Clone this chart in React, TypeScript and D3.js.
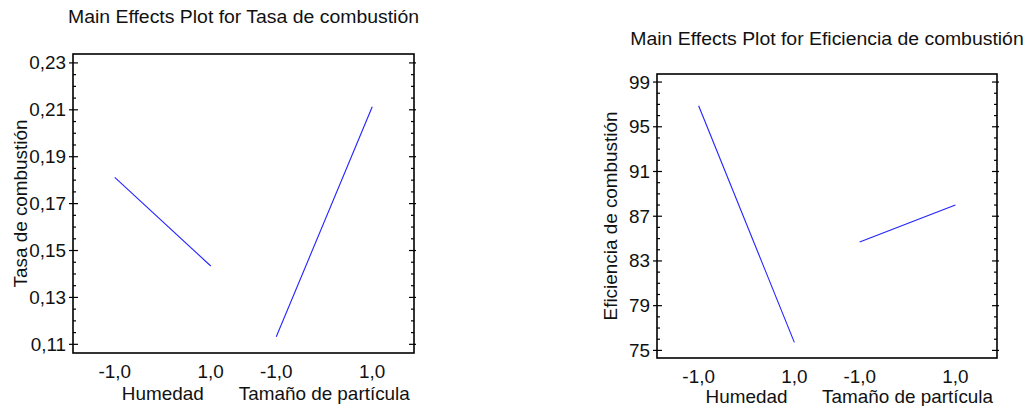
import React from "react";
import * as d3 from "d3";

// ---- Data ----
const factors = ["Humedad", "Tamaño de partícula"];
const levels = [-1, 1];
const levelLabels = ["-1,0", "1,0"];

const tasaTitle = "Main Effects Plot for Tasa de combustión";
const tasaYLabel = "Tasa de combustión";
const tasaHumedad = [0.1812, 0.1434];
const tasaTamano = [0.1132, 0.2113];
const tasaTicks = [0.11, 0.13, 0.15, 0.17, 0.19, 0.21, 0.23];

const eficTitle = "Main Effects Plot for Eficiencia de combustión";
const eficYLabel = "Eficiencia de combustión";
const eficHumedad = [96.88, 75.72];
const eficTamano = [84.69, 88.0];
const eficTicks = [75, 79, 83, 87, 91, 95, 99];

const FONT = "'Liberation Sans', Arial, Helvetica, sans-serif";
const SX = 1.05;

type TProps = {
  x: number;
  y: number;
  size: number;
  anchor?: string;
  rotate?: number;
  children: React.ReactNode;
};

function T({ x, y, size, anchor = "start", rotate = 0, children }: TProps) {
  return (
    <g transform={`translate(${x},${y}) rotate(${rotate}) scale(${SX},1)`}>
      <text x={0} y={0} fontSize={size} fontFamily={FONT} textAnchor={anchor} fill="#111">
        {children}
      </text>
    </g>
  );
}

type PanelProps = {
  box: { x0: number; x1: number; y0: number; y1: number };
  title: string;
  titleY: number;
  yLabel: string;
  yLabelX: number;
  domain: [number, number];
  ticks: number[];
  minorStep: number;
  fmt: (v: number) => string;
  series: number[][];
  tickY: number;
  factorY: number;
};

const GAP = 1.365;
const MARGIN = 0.87;

function Panel(p: PanelProps) {
  const { box } = p;
  const x = d3
    .scaleLinear()
    .domain([-MARGIN, 2 * 2 + GAP + MARGIN])
    .range([box.x0, box.x1]);
  const y = d3.scaleLinear().domain(p.domain).range([box.y1, box.y0]);
  const pos = (fi: number, l: number) => fi * (2 + GAP) + (l + 1);

  const minors: number[] = [];
  const start = Math.ceil(p.domain[0] / p.minorStep - 1e-6);
  const end = Math.floor(p.domain[1] / p.minorStep + 1e-6);
  for (let k = start; k <= end; k++) {
    const v = k * p.minorStep;
    if (!p.ticks.some((t) => Math.abs(t - v) < p.minorStep / 10)) minors.push(v);
  }

  const line = d3
    .line<[number, number]>()
    .x((d) => x(d[0]))
    .y((d) => y(d[1]));

  const cx = (box.x0 + box.x1) / 2;
  const cy = (box.y0 + box.y1) / 2;

  return (
    <g>
      <T x={cx} y={p.titleY} size={18.5} anchor="middle">
        {p.title}
      </T>
      <T x={p.yLabelX} y={cy} size={18} anchor="middle" rotate={-90}>
        {p.yLabel}
      </T>
      {p.series.map((vals, fi) => (
        <path
          key={fi}
          d={line(levels.map((l, li) => [pos(fi, l), vals[li]]) as [number, number][]) || ""}
          fill="none"
          stroke="#2222ff"
          strokeWidth={1.1}
        />
      ))}
      <rect
        x={box.x0}
        y={box.y0}
        width={box.x1 - box.x0}
        height={box.y1 - box.y0}
        fill="none"
        stroke="#000"
        strokeWidth={1.6}
      />
      {p.ticks.map((t) => (
        <g key={"M" + t}>
          <line x1={box.x0 - 4} x2={box.x0 + 5} y1={y(t)} y2={y(t)} stroke="#000" strokeWidth={1.2} />
          <line x1={box.x1 - 5} x2={box.x1 + 2} y1={y(t)} y2={y(t)} stroke="#000" strokeWidth={1.2} />
          <T x={box.x0 - 7} y={y(t) + 6.5} size={18} anchor="end">
            {p.fmt(t)}
          </T>
        </g>
      ))}
      {minors.map((t) => (
        <g key={"m" + t}>
          <line x1={box.x0} x2={box.x0 + 3} y1={y(t)} y2={y(t)} stroke="#000" strokeWidth={1.2} />
          <line x1={box.x1 - 3} x2={box.x1} y1={y(t)} y2={y(t)} stroke="#000" strokeWidth={1.2} />
        </g>
      ))}
      {factors.map((f, fi) => (
        <g key={f}>
          {levels.map((l, li) => (
            <T key={li} x={x(pos(fi, l))} y={p.tickY} size={18} anchor="middle">
              {levelLabels[li]}
            </T>
          ))}
          <T x={x(pos(fi, 0))} y={p.factorY} size={18} anchor="middle">
            {f}
          </T>
        </g>
      ))}
    </g>
  );
}

const fmtTasa = (v: number) => d3.format(".2f")(v).replace(".", ",");
const fmtEfic = (v: number) => d3.format(".0f")(v);

export default function App() {
  return (
    <svg
      width={1032}
      height={406}
      style={{ position: "absolute", left: 0, top: 0, background: "#fff" }}
    >
      <rect x={0} y={0} width={1032} height={406} fill="#fff" />
      <Panel
        box={{ x0: 73, x1: 414, y0: 54, y1: 353 }}
        title={tasaTitle}
        titleY={23}
        yLabel={tasaYLabel}
        yLabelX={27}
        domain={[0.1063, 0.2338]}
        ticks={tasaTicks}
        minorStep={0.005}
        fmt={fmtTasa}
        series={[tasaHumedad, tasaTamano]}
        tickY={378}
        factorY={400}
      />
      <Panel
        box={{ x0: 657, x1: 997, y0: 74, y1: 358 }}
        title={eficTitle}
        titleY={45}
        yLabel={eficYLabel}
        yLabelX={617}
        domain={[74.32, 99.72]}
        ticks={eficTicks}
        minorStep={1}
        fmt={fmtEfic}
        series={[eficHumedad, eficTamano]}
        tickY={383}
        factorY={403}
      />
    </svg>
  );
}
